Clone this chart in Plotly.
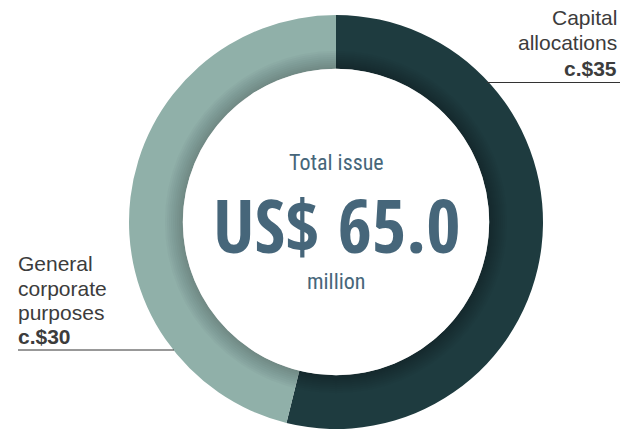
import plotly.graph_objects as go

W, H = 620, 432
labels = ["Capital allocations", "General corporate purposes"]
values = [35, 30]
colors = ["#1e3b3f", "#90b0a9"]
total_label = "US$ 65.0"
top_text = "Total issue"
unit_text = "million"

cx, cy, R = 336, 222, 207
hole = 0.74

def px(x):
    return x / W

def py(y):
    return 1 - y / H

fig = go.Figure(go.Pie(
    labels=labels, values=values, sort=False, direction="clockwise", rotation=0,
    hole=hole, marker=dict(colors=colors, line=dict(width=0)),
    textinfo="none", hoverinfo="skip", showlegend=False,
    domain=dict(x=[px(cx - R), px(cx + R)], y=[py(cy + R), py(cy - R)]),
))

shapes = []
r_in = R * hole
# soft shadow of the inner disc onto the ring
for k in range(9):
    r = r_in + 18 - 2 * k
    shapes.append(dict(type="circle", xref="paper", yref="paper", layer="above",
                       x0=px(cx - r), x1=px(cx + r), y0=py(cy + r), y1=py(cy - r),
                       fillcolor="rgba(0,0,0,0.022)", line=dict(width=0)))
shapes.append(dict(type="circle", xref="paper", yref="paper", layer="above",
                   x0=px(cx - r_in), x1=px(cx + r_in), y0=py(cy + r_in), y1=py(cy - r_in),
                   fillcolor="white", line=dict(width=0)))
# callout lines
shapes.append(dict(type="line", xref="paper", yref="paper", x0=px(487), x1=px(620),
                   y0=py(82.5), y1=py(82.5), line=dict(color="#333333", width=1)))
shapes.append(dict(type="line", xref="paper", yref="paper", x0=px(18), x1=px(174),
                   y0=py(350), y1=py(350), line=dict(color="#333333", width=1)))

ann = []
lab_font = "Liberation Sans, Arial, sans-serif"
def line(text, x, y, anchor, bold=False):
    t = f"<b>{text}</b>" if bold else text
    ann.append(dict(text=t, x=px(x), y=py(y), xref="paper", yref="paper",
                    xanchor=anchor, yanchor="middle", showarrow=False,
                    font=dict(family=lab_font, size=21, color="#3c3c3c")))

line("Capital", 619, 18, "right")
line("allocations", 619, 43, "right")
line("c.$35", 619, 68, "right", bold=True)
line("General", 16, 263, "left")
line("corporate", 16, 288, "left")
line("purposes", 16, 312, "left")
line("c.$30", 16, 336, "left", bold=True)

cfont = "Roboto Condensed, sans-serif"
ann.append(dict(text=top_text, x=px(cx), y=py(162), xref="paper", yref="paper",
                xanchor="center", yanchor="middle", showarrow=False,
                font=dict(family=cfont, size=22, color="#46667a")))
ann.append(dict(text=f"<b>{total_label}</b>", x=px(cx), y=py(224), xref="paper", yref="paper",
                xanchor="center", yanchor="middle", showarrow=False,
                font=dict(family="Open Sans Condensed, Roboto Condensed, sans-serif", size=74,
                          color="#46667a")))
ann.append(dict(text=unit_text, x=px(cx), y=py(281), xref="paper", yref="paper",
                xanchor="center", yanchor="middle", showarrow=False,
                font=dict(family=cfont, size=22, color="#46667a")))

fig.update_layout(width=W, height=H, margin=dict(l=0, r=0, t=0, b=0),
                  paper_bgcolor="white", plot_bgcolor="white",
                  shapes=shapes, annotations=ann)
fig.write_html("out.html", config={"displayModeBar": False},
               post_script="document.body.style.margin='0';")
